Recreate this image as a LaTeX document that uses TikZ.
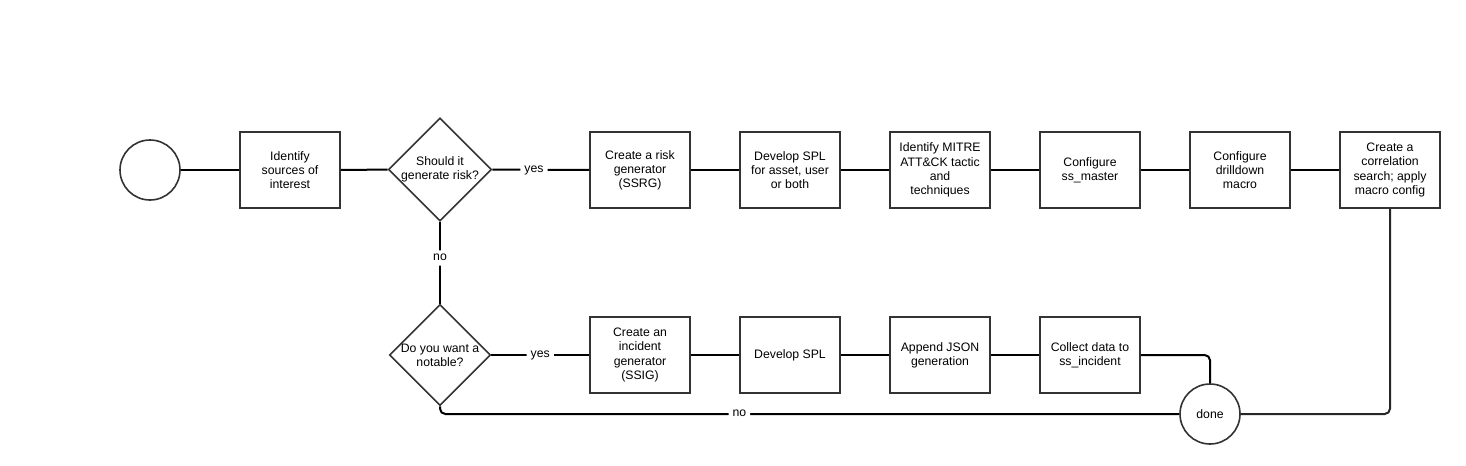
\documentclass[tikz,border=0pt]{standalone}
\usepackage{fontspec}
\setmainfont{Liberation Sans}
\usetikzlibrary{shapes.geometric}
\begin{document}
\begin{tikzpicture}[x=0.75pt,y=-0.75pt,
  every node/.style={font=\fontsize{9.2}{10.6}\selectfont, align=center, inner sep=0pt},
  box/.style={draw=black!80, line width=1.2pt, minimum width=75pt, minimum height=57pt, fill=white},
  dia/.style={draw=black!80, line width=1.2pt, diamond, minimum width=75pt, minimum height=75pt, fill=white},
  circ/.style={draw=black!80, line width=1.2pt, circle, minimum size=45pt, fill=white},
  conn/.style={line width=1.5pt, rounded corners=4pt},
  lab/.style={fill=white, inner xsep=3pt, inner ysep=2pt, text height=1.1ex, text depth=0.3ex}]
\useasboundingbox (0,0) rectangle (1466,465);
\coordinate (c1) at (1210,355);
\coordinate (c2) at (440,414);
\coordinate (c3) at (1390,414);
\node[circ] (start) at (150,170) {};
\node[box] (b1) at (290,170) {Identify\\sources of\\interest};
\node[dia] (d1) at (440,169.5) {Should it\\generate risk?};
\node[box] (r1) at (640,170) {Create a risk\\generator\\(SSRG)};
\node[box] (r2) at (790,170) {Develop SPL\\for asset, user\\or both};
\node[box] (r3) at (940,170) {Identify MITRE\\ATT\&CK tactic\\and\\techniques};
\node[box] (r4) at (1090,170) {Configure\\ss\_master};
\node[box] (r5) at (1240,170) {Configure\\drilldown\\macro};
\node[box] (r6) at (1390,170) {Create a\\correlation\\search; apply\\macro config};
\node[dia] (d2) at (440,355) {Do you want a\\notable?};
\node[box] (i1) at (640,355) {Create an\\incident\\generator\\(SSIG)};
\node[box] (i2) at (790,355) {Develop SPL};
\node[box] (i3) at (940,355) {Append JSON\\generation};
\node[box] (i4) at (1090,355) {Collect data to\\ss\_incident};
\node[circ] (done) at (1210,414) {done};
\draw[conn] (start) -- (b1);
\draw[conn] (b1) -- (d1);
\draw[conn] (d1) -- node[lab, pos=0.43]{yes} (r1);
\draw[conn] (r1) -- (r2);
\draw[conn] (r2) -- (r3);
\draw[conn] (r3) -- (r4);
\draw[conn] (r4) -- (r5);
\draw[conn] (r5) -- (r6);
\draw[conn] (d1) -- node[lab, pos=0.44]{no} (d2);
\draw[conn] (d2) -- node[lab]{yes} (i1);
\draw[conn] (i1) -- (i2);
\draw[conn] (i2) -- (i3);
\draw[conn] (i3) -- (i4);
\draw[conn] (i4.east) -- (c1) -- (done.north);
\draw[conn] (d2.south) -- (c2) -- node[lab, pos=0.405]{no} (done.west);
\draw[conn, black!85] (r6.south) -- (c3) -- (done.east);
\end{tikzpicture}
\end{document}
